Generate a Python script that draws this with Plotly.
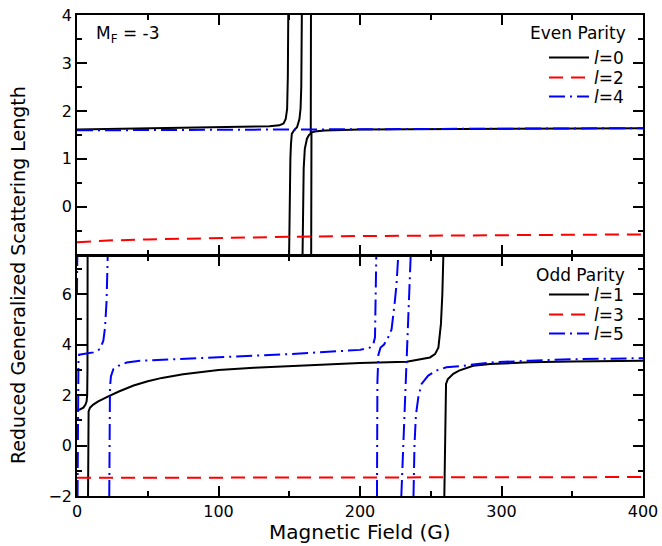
import plotly.graph_objects as go

# ---------------- data ----------------
# Even parity panel (top)
field_l0 = [0, 50, 100, 136, 143, 146, 147.5, 148.5, 149.0, 149.3, None,
            149.9, 150.3, 150.8, 151.2, 151.8, 153.5, 155.5, 157.2, 158.0, 158.5, 158.9, None,
            159.4, 159.7, 160.2, 161.0, 162.5, 164.0, 165.2, 165.35, None,
            165.5, 165.7, 168, 175, 200, 250, 300, 350, 400]
a_l0 = [1.61, 1.63, 1.65, 1.68, 1.70, 1.74, 1.83, 2.04, 2.73, 4.0, None,
        -1.0, 0.2, 1.0, 1.3, 1.52, 1.6, 1.66, 1.83, 2.05, 2.5, 4.0, None,
        -1.0, 0.0, 0.8, 1.21, 1.42, 1.5, 1.53, 4.0, None,
        -1.0, 1.55, 1.57, 1.59, 1.61, 1.62, 1.63, 1.635, 1.64]

field_l2 = [0, 25, 50, 100, 150, 200, 250, 300, 350, 400]
a_l2 = [-0.74, -0.70, -0.68, -0.645, -0.625, -0.61, -0.60, -0.59, -0.58, -0.575]

field_l4 = [0, 50, 100, 150, 200, 250, 300, 350, 400]
a_l4 = [1.595, 1.60, 1.61, 1.615, 1.625, 1.63, 1.635, 1.638, 1.64]

# Odd parity panel (bottom)
field_l1 = [0, 2, 4.5, 6, 6.8, 7.2, 7.4, 7.5, None,
            7.8, 7.9, 8.2, 9.2, 11.5, 15, 18.6, 22.5, 30, 40, 50, 60, 75, 100, 125, 150,
            186, 200, 233, 249.5, 253, 255.4, 257.2, 258.2, 258.9, None,
            259.6, 260.2, 260.8, 262, 263.5, 265.9, 270, 280, 292, 320, 350, 400]
a_l1 = [1.42, 1.43, 1.5, 1.62, 1.75, 2.0, 3.0, 7.5, None,
        -2.0, 0.5, 1.35, 1.5, 1.62, 1.75, 1.86, 1.96, 2.15, 2.38, 2.55, 2.68, 2.82, 2.99, 3.08, 3.15,
        3.24, 3.27, 3.32, 3.49, 3.62, 3.88, 4.82, 6.0, 7.5, None,
        -2.0, 0.0, 2.44, 2.62, 2.72, 2.84, 2.97, 3.16, 3.23, 3.3, 3.33, 3.36]

field_l3 = [0, 100, 200, 300, 400]
a_l3 = [-1.28, -1.27, -1.26, -1.26, -1.25]

field_l5 = [0, 0.2, None,
            0.4, 0.6, 1.0, 1.5, 5.7, 11.5, 16.2, 18.6, 19.8, 20.9, 21.7, None,
            22.8, 23.0, 23.3, 24.0, 25.7, 29.3, 35.1, 44.5, 75, 100, 150, 186, 200, 207, 209.4, 210.6, 211.5, None,
            212.0, 212.3, 213, 214.5, 217, 220, 222.3, 223.5, 224.6, 225.8, 227, None,
            229.2, 230.5, 232, 233.5, 234.8, 235.8, None,
            237.8, 238.5, 239.5, 241.2, 243.5, 248.2, 254, 261, 272.9, 291.8, 320, 350, 400]
a_l5 = [6.0, 7.5, None,
        -2.0, 2.5, 3.3, 3.6, 3.63, 3.69, 3.82, 4.15, 4.67, 5.72, 7.5, None,
        -2.0, 0.5, 2.3, 2.75, 3.03, 3.16, 3.29, 3.36, 3.45, 3.5, 3.62, 3.75, 3.79, 3.88, 4.0, 4.3, 7.5, None,
        -2.0, 2.5, 3.6, 3.88, 4.0, 4.3, 4.6, 5.07, 5.7, 6.38, 7.5, None,
        -2.0, 0.0, 2.0, 4.0, 6.0, 7.5, None,
        -2.0, 0.0, 1.2, 1.91, 2.44, 2.77, 2.97, 3.1, 3.16, 3.29, 3.36, 3.42, 3.46]

x_ticks = [0, 100, 200, 300, 400]
top_ticks = [0, 1, 2, 3, 4]
bottom_ticks = [-2, 0, 2, 4, 6]

# ---------------- styling ----------------
FONT = "DejaVu Sans"
BLACK = "#000000"
RED = "#ff0000"
BLUE = "#0000ff"
DASH = "14px,8px"
DASHDOT = "16px,5px,2px,5px"

# plot area in pixels: x 77..643, y 15..496
L, R, T, B = 77, 643, 15, 496
H = B - T
def px(xp):
    return (xp - L) / (R - L)
def py(yp):
    return 1 - (yp - T) / (B - T)

LW = 1.5
half = (LW / 2) / H  # so the two panel borders overlap into one line

fig = go.Figure()

# legend rows (pixel centre y), one legend per entry
legend_rows = {"legend": 58, "legend2": 78, "legend3": 97,
               "legend4": 295, "legend5": 315, "legend6": 334}

def add(x, y, name, color, dash, xa, ya, legend):
    fig.add_trace(go.Scatter(
        x=x, y=y, mode="lines", name=name, xaxis=xa, yaxis=ya,
        line=dict(color=color, width=2, dash=dash), connectgaps=False,
        legend=legend))

add(field_l0, a_l0, "<i>l</i>=0", BLACK, "solid", "x2", "y2", "legend")
add(field_l2, a_l2, "<i>l</i>=2", RED, DASH, "x2", "y2", "legend2")
add(field_l4, a_l4, "<i>l</i>=4", BLUE, DASHDOT, "x2", "y2", "legend3")
add(field_l1, a_l1, "<i>l</i>=1", BLACK, "solid", "x", "y", "legend4")
add(field_l3, a_l3, "<i>l</i>=3", RED, DASH, "x", "y", "legend5")
add(field_l5, a_l5, "<i>l</i>=5", BLUE, DASHDOT, "x", "y", "legend6")

axis_common = dict(
    showline=True, linecolor="black", linewidth=LW, mirror="allticks",
    ticks="inside", ticklen=10, tickwidth=1.5, tickcolor="black",
    showgrid=False, zeroline=False, automargin=False,
    tickfont=dict(family=FONT, size=16, color="black"),
)

legend_defs = {}
for name, row in legend_rows.items():
    legend_defs[name] = dict(
        x=px(544), xanchor="left", y=py(row), yanchor="middle",
        bgcolor="rgba(0,0,0,0)", borderwidth=0,
        font=dict(family=FONT, size=17, color="black"),
        itemwidth=40, tracegroupgap=0)

fig.update_layout(
    width=662, height=546,
    margin=dict(l=L, r=662 - R, t=T, b=546 - B, autoexpand=False),
    paper_bgcolor="white", plot_bgcolor="white",
    font=dict(family=FONT, color="black"),
    xaxis=dict(domain=[0, 1], anchor="y", range=[0, 400], tickvals=x_ticks,
               minor=dict(ticks="inside", ticklen=5, dtick=50, tickcolor="black", tickwidth=1.5),
               **axis_common),
    xaxis2=dict(domain=[0, 1], anchor="y2", range=[0, 400], tickvals=x_ticks,
                matches="x", showticklabels=False,
                minor=dict(ticks="inside", ticklen=5, dtick=50, tickcolor="black", tickwidth=1.5),
                **axis_common),
    yaxis=dict(domain=[0, 0.5 - half], anchor="x", range=[-2, 7.5], tickvals=bottom_ticks,
               minor=dict(ticks="inside", ticklen=5, dtick=1, tick0=-2, tickcolor="black", tickwidth=1.5),
               **axis_common),
    yaxis2=dict(domain=[0.5 + half, 1], anchor="x2", range=[-1, 4], tickvals=top_ticks,
                minor=dict(ticks="inside", ticklen=5, dtick=0.5, tick0=0, tickcolor="black", tickwidth=1.5),
                **axis_common),
    showlegend=True,
    **legend_defs,
)

annotations = [
    dict(text="M<sub>F</sub> = -3", x=px(94), y=py(34), xanchor="left", yanchor="middle",
         font=dict(family=FONT, size=17)),
    dict(text="Even Parity", x=px(628), y=py(33), xanchor="right", yanchor="middle",
         font=dict(family=FONT, size=17)),
    dict(text="Odd Parity", x=px(627), y=py(275), xanchor="right", yanchor="middle",
         font=dict(family=FONT, size=17)),
    dict(text="Magnetic Field (G)", x=px(360), y=py(532), xanchor="center", yanchor="middle",
         font=dict(family=FONT, size=20)),
    dict(text="Reduced Generalized Scattering Length", x=px(18), y=py(275),
         xanchor="center", yanchor="middle", textangle=-90,
         font=dict(family=FONT, size=19)),
]
for a in annotations:
    a.update(xref="paper", yref="paper", showarrow=False)
fig.update_layout(annotations=annotations)

fig.write_html(
    "out.html",
    config={"displayModeBar": False},
    post_script="document.body.style.margin='0';document.body.style.padding='0';",
)
